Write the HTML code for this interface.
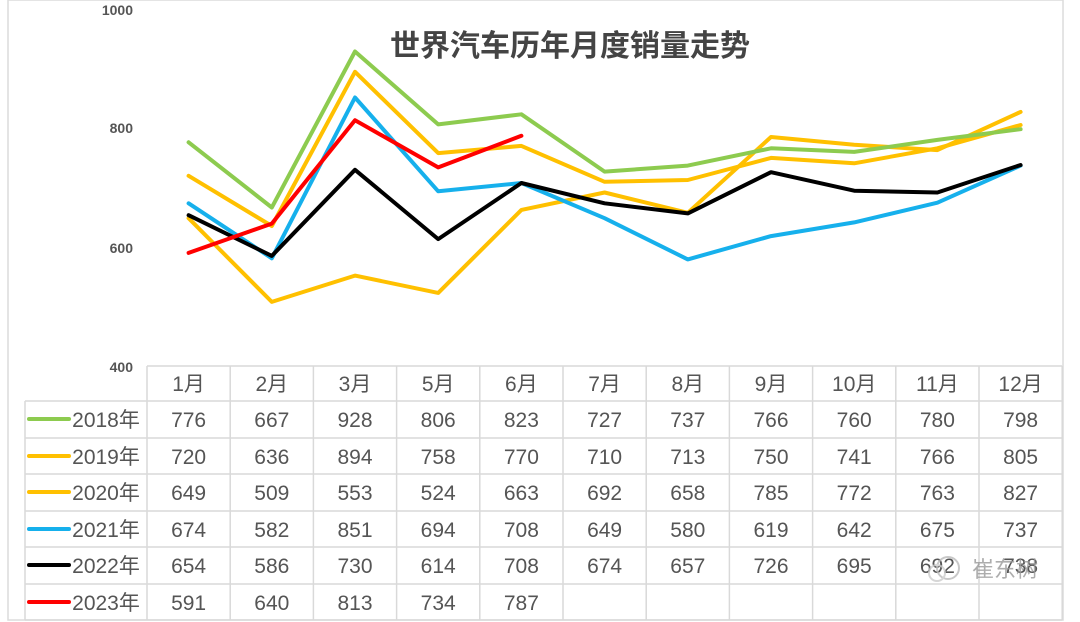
<!DOCTYPE html>
<html><head><meta charset="utf-8">
<style>
html,body{margin:0;padding:0;background:#fff;}
body{width:1080px;height:622px;overflow:hidden;position:relative;font-family:"Liberation Sans","Noto Sans CJK SC",sans-serif;}
svg{position:absolute;left:0;top:0;}
</style></head><body>
<svg id="s" width="1080" height="622" viewBox="0 0 1080 622" xmlns="http://www.w3.org/2000/svg" font-family="Liberation Sans, Noto Sans CJK SC, sans-serif">
<rect x="8" y="0" width="1055" height="620" fill="none" stroke="#dcdcdc" stroke-width="1.5"/>
<text x="570" y="56" text-anchor="middle" font-size="30" fill="#444" font-family="Noto Sans CJK SC, sans-serif" font-weight="bold">世界汽车历年月度销量走势</text>
<g font-size="14" fill="#555" text-anchor="end" font-weight="bold">
<text x="133" y="15">1000</text>
<text x="133" y="133">800</text>
<text x="133" y="253">600</text>
<text x="133" y="372">400</text>
</g>
<g id="grid" stroke="#d9d9d9" stroke-width="1.5" fill="none"></g>
<g id="lines" fill="none" stroke-width="4" stroke-linejoin="round" stroke-linecap="round"></g>
<g id="txt" font-size="21" fill="#555" text-anchor="middle"></g>
<g opacity="0.8">
<circle cx="948" cy="568" r="11" fill="none" stroke="#bbb" stroke-width="2"/>
<circle cx="937" cy="573" r="8" fill="none" stroke="#ccc" stroke-width="2"/>
<text x="1005" y="577" font-size="22" fill="#999" text-anchor="middle" font-family="Noto Sans CJK SC, sans-serif">崔东树</text>
</g>
</svg>
<script>
var ns="http://www.w3.org/2000/svg";
function el(p,t,a,txt){var e=document.createElementNS(ns,t);for(var k in a)e.setAttribute(k,a[k]);if(txt!==undefined)e.textContent=txt;document.getElementById(p).appendChild(e);return e;}
var months=["1月","2月","3月","5月","6月","7月","8月","9月","10月","11月","12月"];
var data=[
["2018年","#8dcb4f",[776,667,928,806,823,727,737,766,760,780,798]],
["2019年","#ffc000",[720,636,894,758,770,710,713,750,741,766,805]],
["2020年","#ffc000",[649,509,553,524,663,692,658,785,772,763,827]],
["2021年","#16b0ec",[674,582,851,694,708,649,580,619,642,675,737]],
["2022年","#000000",[654,586,730,614,708,674,657,726,695,692,738]],
["2023年","#ff0000",[591,640,813,734,787]]
];
var x0=147,cw=83.2,rows=[366,401,438,474,511,547,584,620];
function Y(v){return 367-(v-400)*0.5975;}
function X(i){return x0+cw*(i+0.5);}
for(var i=0;i<rows.length;i++){var xs=i==0?x0:25;el("grid","line",{x1:xs,y1:rows[i],x2:x0+cw*11,y2:rows[i]});}
el("grid","line",{x1:25,y1:401,x2:25,y2:620});
for(var c=0;c<=11;c++){el("grid","line",{x1:x0+cw*c,y1:366,x2:x0+cw*c,y2:620});}
months.forEach(function(m,i){el("txt","text",{x:X(i),y:391},m);});
data.forEach(function(d,r){
  var cy=rows[r+1]+26;
  el("lines","line",{x1:29,y1:cy-8,x2:69,y2:cy-8,stroke:d[1],"stroke-width":4});
  el("txt","text",{x:106,y:cy},d[0]);
  d[2].forEach(function(v,i){el("txt","text",{x:X(i),y:cy},v);});
});
[1,2,0,3,4,5].forEach(function(r){var d=data[r];
  el("lines","polyline",{points:d[2].map(function(v,i){return X(i).toFixed(1)+","+Y(v).toFixed(1);}).join(" "),stroke:d[1]});});
</script>
</body></html>
